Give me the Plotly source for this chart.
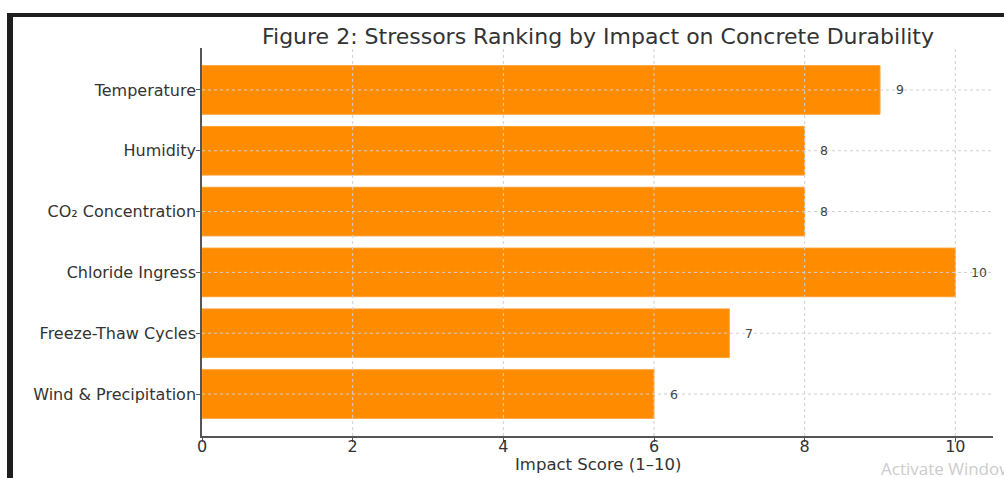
import plotly.graph_objects as go

categories = ["Temperature", "Humidity", "CO₂ Concentration", "Chloride Ingress",
              "Freeze-Thaw Cycles", "Wind & Precipitation"]
scores = [9, 8, 8, 10, 7, 6]
x_ticks = [0, 2, 4, 6, 8, 10]

W, H = 1004, 478
L, R, T, B = 202, 11, 48, 42
PW, PH = W - L - R, H - T - B
font = "DejaVu Sans"
txt = "#333333"
grid = "#cfcfcf"


def px(xp):   # page x -> paper
    return (xp - L) / PW


def py(yp):   # page y -> paper
    return (H - B - yp) / PH


fig = go.Figure()
fig.add_trace(go.Bar(
    y=categories, x=scores, orientation="h",
    marker=dict(color="#FF8C00", line=dict(color="#FFA033", width=1)),
    width=0.8, showlegend=False, hoverinfo="x+y",
))

for c, v in zip(categories, scores):
    fig.add_annotation(x=v + 0.18, y=c, text=str(v), showarrow=False,
                       xanchor="left", yanchor="middle",
                       font=dict(family=font, size=12.5, color="#444444"))

# grid lines drawn above bars (as in the reference)
for t in x_ticks[1:]:
    fig.add_shape(type="line", xref="x", yref="paper", x0=t, x1=t, y0=0, y1=1,
                  line=dict(color=grid, width=1, dash="dot"), layer="above")
for c in categories:
    fig.add_shape(type="line", xref="paper", yref="y", x0=0, x1=1, y0=c, y1=c,
                  line=dict(color=grid, width=1, dash="dot"), layer="above")

fig.update_layout(
    width=W, height=H,
    margin=dict(l=L, r=R, t=T, b=B, pad=0, autoexpand=False),
    paper_bgcolor="white", plot_bgcolor="white",
    title=dict(text="Figure 2: Stressors Ranking by Impact on Concrete Durability",
               x=598 / W, xanchor="center",
               y=1 - 36 / H, yanchor="middle",
               font=dict(family=font, size=22, color=txt)),
    xaxis=dict(range=[0, 10.5], tickvals=x_ticks, ticktext=[str(t) for t in x_ticks],
               showgrid=False, automargin=False,
               showline=True, linecolor="#555555", linewidth=1.5,
               ticks="outside", ticklen=4, tickcolor="#555555",
               ticklabelstandoff=-9,
               tickfont=dict(family=font, size=16, color=txt),
               zeroline=False, layer="above traces", fixedrange=True),
    yaxis=dict(autorange=False, range=[5.69, -0.69], categoryorder="array",
               categoryarray=categories,
               showgrid=False, automargin=False,
               showline=True, linecolor="#555555", linewidth=1.5,
               ticks="outside", ticklen=4, tickcolor="#555555",
               ticklabelstandoff=-3,
               tickfont=dict(family=font, size=16, color=txt),
               zeroline=False, layer="above traces", fixedrange=True),
)

# x-axis title placed explicitly (centred on the axes)
fig.add_annotation(xref="paper", yref="paper", x=0.5, y=py(464),
                   text="Impact Score (1–10)", showarrow=False,
                   xanchor="center", yanchor="middle",
                   font=dict(family=font, size=16.5, color=txt))

# screenshot frame (thick dark left bar and top line)
fig.add_shape(type="rect", xref="paper", yref="paper",
              x0=px(7), x1=px(13), y0=py(478), y1=py(13),
              fillcolor="#1e1e1e", line=dict(width=0), layer="above")
fig.add_shape(type="rect", xref="paper", yref="paper",
              x0=px(7), x1=px(1004), y0=py(17), y1=py(13),
              fillcolor="#1e1e1e", line=dict(width=0), layer="above")

fig.add_annotation(xref="paper", yref="paper", x=px(879), y=py(469),
                   text="Activate Windows", showarrow=False,
                   xanchor="left", yanchor="middle",
                   font=dict(family="Open Sans", size=17, color="#cccccc"))

fig.write_html("out.html", config={"displayModeBar": False},
               post_script="document.body.style.margin='0';"
                           "document.body.style.overflow='hidden';")
